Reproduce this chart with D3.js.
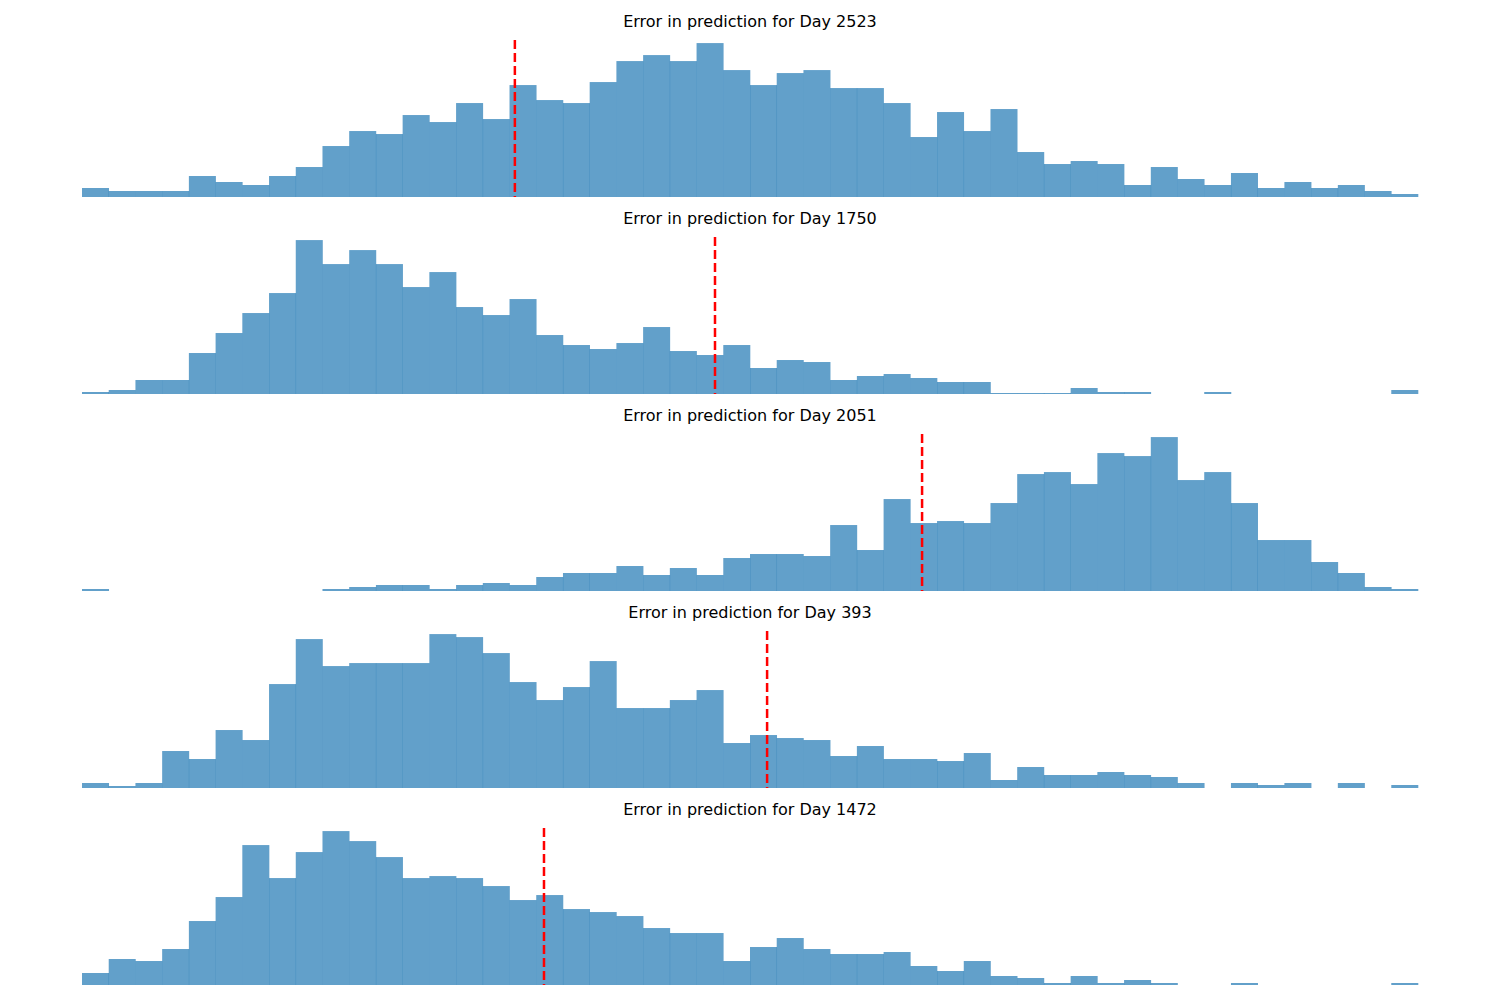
<!DOCTYPE html>
<html>
<head>
<meta charset="utf-8">
<script src="https://cdn.jsdelivr.net/npm/d3@7"></script>
<style>
  body { margin: 0; background: white; }
  text { font-family: "DejaVu Sans", sans-serif; }
</style>
</head>
<body>
<svg id="chart" width="1500" height="1000"></svg>
<script>
// Panel titles (day numbers)
const days = [2523, 1750, 2051, 393, 1472];

// Bin counts per panel, 50 bins each
const counts2523 = [9,6,6,6,21,15,12,21,30,51,66,63,82,75,94,78,112,97,94,115,136,142,136,154,127,112,124,127,109,109,94,60,85,66,88,45,33,36,33,12,30,18,12,24,9,15,9,12,6,3];
const counts1750 = [2,4,14,14,41,61,81,101,154,130,144,130,107,122,87,79,95,59,49,45,51,67,43,39,49,26,34,32,14,18,20,16,12,12,1,1,1,6,2,2,0,0,2,0,0,0,0,0,0,4];
const counts2051 = [2,0,0,0,0,0,0,0,0,2,4,6,6,2,6,8,6,14,18,18,25,16,23,16,33,37,37,35,66,41,92,68,70,68,88,117,119,107,138,135,154,111,119,88,51,51,29,18,4,2];
const counts393  = [5,2,5,37,29,58,48,104,149,122,125,125,125,154,151,135,106,88,101,127,80,80,88,98,45,53,50,48,32,42,29,29,27,35,8,21,13,13,16,13,11,5,0,5,3,5,0,5,0,3];
const counts1472 = [12,26,24,36,64,88,140,107,133,154,144,128,107,109,107,99,85,90,76,73,69,57,52,52,24,38,47,36,31,31,33,19,14,24,9,7,2,9,2,5,2,0,0,2,0,0,0,0,0,2];
const allCounts = [counts2523, counts1750, counts2051, counts393, counts1472];

// Actual value (red dashed line), in bin units (0..50)
const actuals = [16.2, 23.69, 31.44, 25.64, 17.29];

const svg = d3.select('#chart');
const left = 82, right = 1418;
const panelTop = 40, panelHeight = 157, panelStep = 197;
const nBins = 50;

const x = d3.scaleLinear().domain([0, nBins]).range([left, right]);

allCounts.forEach((counts, p) => {
  const top = panelTop + p * panelStep;
  const bottom = top + panelHeight;
  const y = d3.scaleLinear()
    .domain([0, d3.max(counts) * 1.02])
    .range([bottom, top]);

  const g = svg.append('g');

  g.selectAll('rect')
    .data(counts)
    .enter()
    .append('rect')
    .attr('x', (d, i) => x(i))
    .attr('width', x(1) - x(0) + 0.3)
    .attr('y', d => y(d))
    .attr('height', d => bottom - y(d))
    .attr('fill', '#1f77b4')
    .attr('fill-opacity', 0.7);

  g.append('line')
    .attr('x1', x(actuals[p]))
    .attr('x2', x(actuals[p]))
    .attr('y1', top)
    .attr('y2', bottom)
    .attr('stroke', 'red')
    .attr('stroke-width', 2.5)
    .attr('stroke-dasharray', '9,4');

  g.append('text')
    .attr('x', (left + right) / 2)
    .attr('y', top - 13)
    .attr('text-anchor', 'middle')
    .attr('font-size', 16)
    .text(`Error in prediction for Day ${days[p]}`);
});
</script>
</body>
</html>
